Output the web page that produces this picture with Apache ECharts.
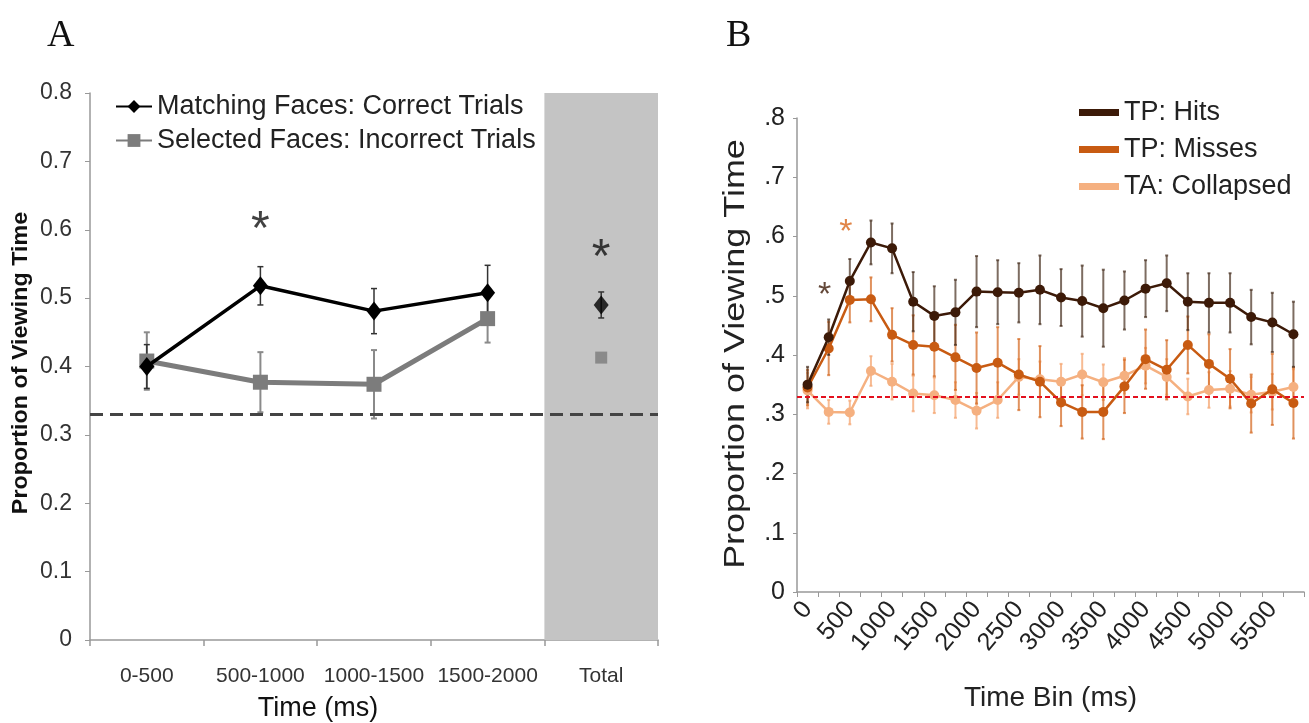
<!DOCTYPE html>
<html>
<head>
<meta charset="utf-8">
<script src="https://cdn.jsdelivr.net/npm/echarts@6/dist/echarts.min.js"></script>
<style>
  html, body { margin: 0; padding: 0; background: #fff; }
  #chart { width: 1309px; height: 723px; }
</style>
</head>
<body>
<div id="chart"></div>
<script>
// panel A data
var catsA = ['0-500', '500-1000', '1000-1500', '1500-2000', 'Total'];
var matching = [0.40, 0.518, 0.481, 0.508, '-'];
var matchingErr = [0.032, 0.028, 0.033, 0.04, 0.019];
var selected = [0.408, 0.377, 0.374, 0.47, '-'];
var selectedErr = [0.042, 0.044, 0.05, 0.035, 0];
var matchingTotal = 0.49;
var selectedTotal = 0.413;
var chanceA = 0.333;
var bandA = 0.8;

// panel B data (250 ms bins)
var binsB = ['0', '250', '500', '750', '1000', '1250', '1500', '1750', '2000', '2250', '2500', '2750',
  '3000', '3250', '3500', '3750', '4000', '4250', '4500', '4750', '5000', '5250', '5500', '5750'];
var hits = [0.35, 0.43, 0.525, 0.59, 0.58, 0.49, 0.466, 0.472, 0.507, 0.506, 0.505, 0.51,
  0.497, 0.491, 0.479, 0.492, 0.512, 0.521, 0.49, 0.488, 0.488, 0.464, 0.455, 0.435];
var hitsErr = [0.03, 0.03, 0.037, 0.037, 0.042, 0.05, 0.05, 0.055, 0.06, 0.054, 0.05, 0.058,
  0.048, 0.06, 0.065, 0.049, 0.048, 0.047, 0.048, 0.05, 0.05, 0.046, 0.05, 0.055];
var misses = [0.345, 0.411, 0.493, 0.494, 0.434, 0.417, 0.414, 0.396, 0.378, 0.387, 0.367, 0.355,
  0.32, 0.304, 0.304, 0.347, 0.393, 0.375, 0.417, 0.385, 0.36, 0.318, 0.342, 0.319];
var missesErr = [0.03, 0.045, 0.038, 0.037, 0.045, 0.05, 0.05, 0.055, 0.06, 0.06, 0.06, 0.06,
  0.04, 0.045, 0.046, 0.045, 0.05, 0.05, 0.048, 0.05, 0.05, 0.049, 0.06, 0.06];
var collapsed = [0.34, 0.304, 0.303, 0.373, 0.355, 0.335, 0.332, 0.324, 0.306, 0.324, 0.363, 0.359,
  0.355, 0.367, 0.354, 0.365, 0.382, 0.363, 0.33, 0.341, 0.343, 0.333, 0.338, 0.346];
var collapsedErr = [0.03, 0.02, 0.02, 0.025, 0.03, 0.03, 0.03, 0.03, 0.03, 0.03, 0.03, 0.03,
  0.03, 0.035, 0.03, 0.03, 0.03, 0.03, 0.03, 0.03, 0.03, 0.03, 0.03, 0.03];
var chanceB = 0.333;

var sans = '"Liberation Sans", Arial, sans-serif';

function errData(vals, errs) {
  var out = [];
  for (var i = 0; i < vals.length; i++) {
    if (vals[i] === '-' || !errs[i]) continue;
    out.push([i, vals[i], errs[i]]);
  }
  return out;
}

function errBars(color, width, cap) {
  return function (params, api) {
    var i = api.value(0), m = api.value(1), e = api.value(2);
    var hi = api.coord([i, m + e]);
    var lo = api.coord([i, m - e]);
    var st = { stroke: color, lineWidth: width };
    return {
      type: 'group',
      children: [
        { type: 'line', shape: { x1: hi[0], y1: hi[1], x2: lo[0], y2: lo[1] }, style: st },
        { type: 'line', shape: { x1: hi[0] - cap, y1: hi[1], x2: hi[0] + cap, y2: hi[1] }, style: st },
        { type: 'line', shape: { x1: lo[0] - cap, y1: lo[1], x2: lo[0] + cap, y2: lo[1] }, style: st }
      ]
    };
  };
}

var chart = echarts.init(document.getElementById('chart'));

var option = {
  backgroundColor: '#fff',
  animation: false,
  title: [
    { text: 'A', left: 42, top: 12, textStyle: { fontFamily: '"Liberation Serif", serif', fontSize: 38, fontWeight: 'normal', color: '#111' } },
    { text: 'B', left: 721, top: 12, textStyle: { fontFamily: '"Liberation Serif", serif', fontSize: 38, fontWeight: 'normal', color: '#111' } }
  ],
  legend: [
    {
      data: ['Matching Faces: Correct Trials', 'Selected Faces: Incorrect Trials'],
      orient: 'vertical', left: 110, top: 88, itemGap: 7,
      itemWidth: 36, itemHeight: 16,
      textStyle: { fontFamily: sans, fontSize: 27, color: '#222' }
    },
    {
      data: ['TP: Hits', 'TP: Misses', 'TA: Collapsed'],
      orient: 'vertical', left: 1074, top: 94, itemGap: 10,
      icon: 'rect', itemWidth: 40, itemHeight: 7,
      textStyle: { fontFamily: sans, fontSize: 27, color: '#222' }
    }
  ],
  graphic: [
    { type: 'text', x: 318, y: 709, style: { text: 'Time (ms)', font: '27px ' + sans, fill: '#111', align: 'center', verticalAlign: 'middle' } },
    { type: 'text', x: 21, y: 363, rotation: Math.PI / 2, scaleX: 1.06,
      style: { text: 'Proportion of Viewing Time', font: 'bold 22px ' + sans, fill: '#111', align: 'center', verticalAlign: 'middle' } },
    { type: 'text', x: 736, y: 354, rotation: Math.PI / 2, scaleX: 1.24,
      style: { text: 'Proportion of Viewing Time', font: '29px ' + sans, fill: '#222', align: 'center', verticalAlign: 'middle' } }
  ],
  grid: [
    { left: 90, top: 93, width: 568, height: 547 },
    { left: 797, top: 118, width: 507, height: 474 }
  ],
  xAxis: [
    {
      gridIndex: 0, type: 'category', data: catsA, boundaryGap: true,
      axisLine: { lineStyle: { color: '#999', width: 1.5 } },
      axisTick: { show: true, length: 6, lineStyle: { color: '#999', width: 1.5 } },
      axisLabel: { interval: 0, fontFamily: sans, fontSize: 21, color: '#333', margin: 26 }
    },
    {
      gridIndex: 1, type: 'category', data: binsB, boundaryGap: true,
      name: 'Time Bin (ms)', nameLocation: 'middle', nameGap: 92,
      nameTextStyle: { fontFamily: sans, fontSize: 28, color: '#222' },
      axisLine: { lineStyle: { color: '#999', width: 1.5 } },
      axisTick: { show: true, interval: 0, length: 5, lineStyle: { color: '#999' } },
      axisLabel: { interval: 1, rotate: 50, fontFamily: sans, fontSize: 25, color: '#222', margin: 13 }
    }
  ],
  yAxis: [
    {
      gridIndex: 0, type: 'value', min: 0, max: 0.8, interval: 0.1,
      axisLine: { show: true, lineStyle: { color: '#999', width: 1.5 } },
      axisTick: { show: true, length: 5, lineStyle: { color: '#999' } },
      splitLine: { show: false },
      axisLabel: { fontFamily: sans, fontSize: 23, color: '#333', margin: 18 }
    },
    {
      gridIndex: 1, type: 'value', min: 0, max: 0.8, interval: 0.1,
      axisLine: { show: true, lineStyle: { color: '#999', width: 1.5 } },
      axisTick: { show: true, length: 4, lineStyle: { color: '#999' } },
      splitLine: { show: false },
      axisLabel: {
        fontFamily: sans, fontSize: 25, color: '#222', margin: 12,
        formatter: function (v) { return v === 0 ? '0' : v.toFixed(1).replace(/^0/, ''); }
      }
    }
  ],
  series: [
    // panel A
    {
      name: 'band', type: 'bar', xAxisIndex: 0, yAxisIndex: 0,
      data: catsA.map(function (c, i) { return i === catsA.length - 1 ? bandA : '-'; }),
      barWidth: '100%', itemStyle: { color: '#c4c4c4' }, silent: true, z: 0,
      markLine: {
        symbol: 'none', silent: true, label: { show: false },
        lineStyle: { color: '#444', width: 3, type: [13, 7] },
        data: [{ yAxis: chanceA }]
      }
    },
    {
      name: 'errSelected', type: 'custom', xAxisIndex: 0, yAxisIndex: 0, z: 2,
      renderItem: errBars('#8a8a8a', 2, 3), data: errData(selected, selectedErr)
    },
    {
      name: 'errMatching', type: 'custom', xAxisIndex: 0, yAxisIndex: 0, z: 2,
      renderItem: errBars('#333', 1.5, 3),
      data: errData(matching, matchingErr).concat([[4, matchingTotal, matchingErr[4]]])
    },
    {
      name: 'Selected Faces: Incorrect Trials', type: 'line', xAxisIndex: 0, yAxisIndex: 0, z: 3,
      data: selected, symbol: 'rect', symbolSize: 15,
      lineStyle: { color: '#7c7c7c', width: 5 }, itemStyle: { color: '#7c7c7c' }
    },
    {
      name: 'Matching Faces: Correct Trials', type: 'line', xAxisIndex: 0, yAxisIndex: 0, z: 4,
      data: matching, symbol: 'diamond', symbolSize: [15, 19],
      lineStyle: { color: '#000', width: 3.5 }, itemStyle: { color: '#000' }
    },
    {
      name: 'totals', type: 'scatter', xAxisIndex: 0, yAxisIndex: 0, z: 4,
      data: [
        { value: [4, matchingTotal], symbol: 'diamond', symbolSize: [15, 19], itemStyle: { color: '#000' } },
        { value: [4, selectedTotal], symbol: 'rect', symbolSize: 12, itemStyle: { color: '#7c7c7c' } }
      ]
    },
    {
      name: 'starsA', type: 'scatter', xAxisIndex: 0, yAxisIndex: 0, symbolSize: 0,
      data: [[1, 0.598], [4, 0.558]],
      label: { show: true, formatter: '*', fontFamily: sans, fontSize: 48, color: '#111', position: 'inside' }
    },
    // panel B
    {
      name: 'errCollapsed', type: 'custom', xAxisIndex: 1, yAxisIndex: 1, z: 2,
      renderItem: errBars('rgba(245,170,120,0.8)', 2, 1.5), data: errData(collapsed, collapsedErr)
    },
    {
      name: 'errMisses', type: 'custom', xAxisIndex: 1, yAxisIndex: 1, z: 2,
      renderItem: errBars('rgba(214,110,40,0.75)', 2, 1.5), data: errData(misses, missesErr)
    },
    {
      name: 'errHits', type: 'custom', xAxisIndex: 1, yAxisIndex: 1, z: 2,
      renderItem: errBars('rgba(70,45,30,0.7)', 2, 1.5), data: errData(hits, hitsErr)
    },
    {
      name: 'TA: Collapsed', type: 'line', xAxisIndex: 1, yAxisIndex: 1, z: 3,
      data: collapsed, symbol: 'circle', symbolSize: 10,
      lineStyle: { color: '#f5b080', width: 2.5 }, itemStyle: { color: '#f5b080' },
      markLine: {
        symbol: 'none', silent: true, label: { show: false },
        lineStyle: { color: '#e3101e', width: 2, type: [5, 3] },
        data: [{ yAxis: chanceB }]
      }
    },
    {
      name: 'TP: Misses', type: 'line', xAxisIndex: 1, yAxisIndex: 1, z: 4,
      data: misses, symbol: 'circle', symbolSize: 10,
      lineStyle: { color: '#c85b12', width: 2.5 }, itemStyle: { color: '#c85b12' }
    },
    {
      name: 'TP: Hits', type: 'line', xAxisIndex: 1, yAxisIndex: 1, z: 5,
      data: hits, symbol: 'circle', symbolSize: 10,
      lineStyle: { color: '#3c1a08', width: 2.5 }, itemStyle: { color: '#3c1a08' }
    },
    {
      name: 'starsB', type: 'scatter', xAxisIndex: 1, yAxisIndex: 1, symbolSize: 0,
      data: [
        { value: [1, 0.5], label: { color: '#3c1a08' } },
        { value: [2, 0.606], label: { color: '#d9661a' } }
      ],
      label: { show: true, formatter: '*', fontFamily: sans, fontSize: 34, position: 'inside', offset: [-4, 0] }
    }
  ]
};

chart.setOption(option);
</script>
</body>
</html>
